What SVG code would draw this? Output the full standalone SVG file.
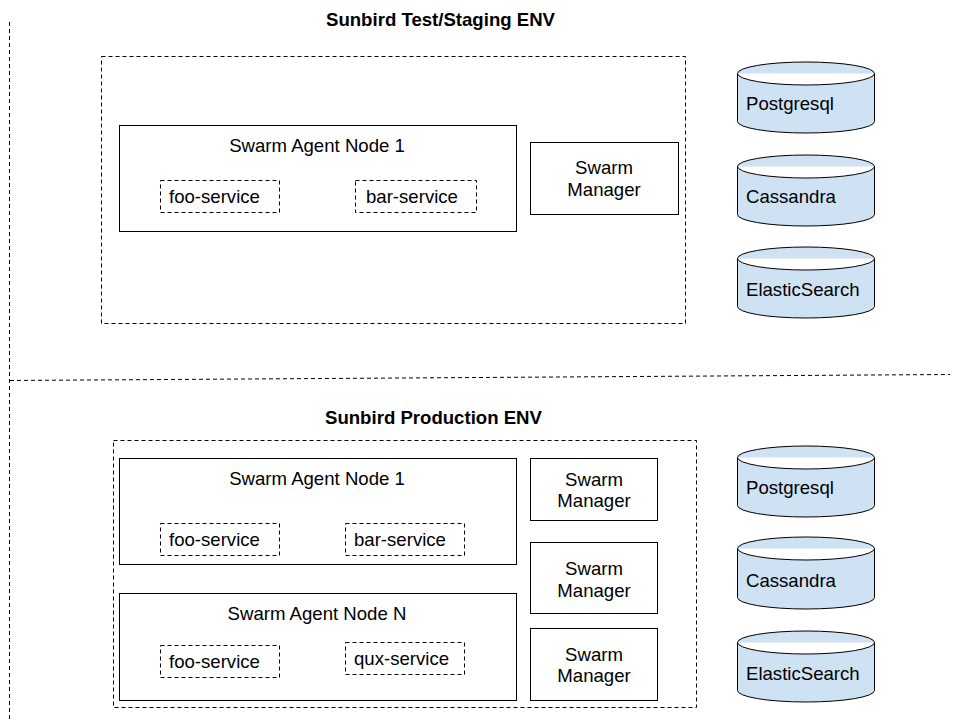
<svg xmlns="http://www.w3.org/2000/svg" width="960" height="720" viewBox="0 0 960 720">
<style>
text{font-family:"Liberation Sans",Arial,sans-serif;font-size:18.6px;fill:#000}
.title{font-weight:bold}
.mid{text-anchor:middle}
.box{fill:#fff;stroke:#000;stroke-width:1}
.dash{fill:none;stroke:#000;stroke-width:1;stroke-dasharray:4 3}
.cyl{fill:#cfe2f3;stroke:#000;stroke-width:1}
</style>
<rect width="960" height="720" fill="#fff"/>
<g id="separators">
<line class="dash" x1="9.5" y1="22" x2="9.5" y2="720"/>
<line class="dash" x1="10" y1="380.5" x2="950" y2="374.5"/>
</g>
<g id="staging">
<text class="title" x="326" y="26">Sunbird Test/Staging ENV</text>
<rect class="dash" x="101.5" y="56.5" width="584" height="267"/>
<g id="st-agent1">
<rect class="box" x="119.5" y="125.5" width="397" height="106"/>
<text class="mid" x="317" y="152">Swarm Agent Node 1</text>
</g>
<g id="st-foo"><rect class="dash" x="160.5" y="180.5" width="119" height="32"/><text x="169" y="203">foo-service</text></g>
<g id="st-bar"><rect class="dash" x="355.5" y="180.5" width="121" height="32"/><text x="366" y="203">bar-service</text></g>
<g id="st-manager">
<rect class="box" x="530.5" y="142.5" width="148" height="72"/>
<text class="mid" x="604" y="174">Swarm</text>
<text class="mid" x="604" y="196">Manager</text>
</g>
<g id="st-postgres">
<path class="cyl" d="M737.5 73.5 A68.5 11.5 0 0 1 874.5 73.5 V121.5 A68.5 11.5 0 0 1 737.5 121.5 Z M737.5 73.5 A68.5 11.5 0 0 0 874.5 73.5"/>
<text x="746" y="110">Postgresql</text>
</g>
<g id="st-cassandra">
<path class="cyl" d="M737.5 166.5 A68.5 11.5 0 0 1 874.5 166.5 V214.5 A68.5 11.5 0 0 1 737.5 214.5 Z M737.5 166.5 A68.5 11.5 0 0 0 874.5 166.5"/>
<text x="746" y="203">Cassandra</text>
</g>
<g id="st-elastic">
<path class="cyl" d="M737.5 258.5 A68.5 11.5 0 0 1 874.5 258.5 V306.5 A68.5 11.5 0 0 1 737.5 306.5 Z M737.5 258.5 A68.5 11.5 0 0 0 874.5 258.5"/>
<text x="746" y="296">ElasticSearch</text>
</g>
</g>
<g id="production">
<text class="title" x="325" y="424">Sunbird Production ENV</text>
<rect class="dash" x="113.5" y="440.5" width="583" height="267"/>
<g id="pr-agent1">
<rect class="box" x="119.5" y="458.5" width="397" height="106"/>
<text class="mid" x="317" y="485">Swarm Agent Node 1</text>
</g>
<g id="pr-foo1"><rect class="dash" x="160.5" y="523.5" width="119" height="32"/><text x="169" y="546">foo-service</text></g>
<g id="pr-bar"><rect class="dash" x="345.5" y="523.5" width="119" height="32"/><text x="354" y="546">bar-service</text></g>
<g id="pr-agentN">
<rect class="box" x="119.5" y="593.5" width="397" height="107"/>
<text class="mid" x="317" y="620">Swarm Agent Node N</text>
</g>
<g id="pr-foo2"><rect class="dash" x="160.5" y="645.5" width="119" height="32"/><text x="169" y="668">foo-service</text></g>
<g id="pr-qux"><rect class="dash" x="345.5" y="642.5" width="119" height="32"/><text x="354" y="665">qux-service</text></g>
<g id="pr-manager1">
<rect class="box" x="530.5" y="458.5" width="127" height="62"/>
<text class="mid" x="594" y="486">Swarm</text>
<text class="mid" x="594" y="507">Manager</text>
</g>
<g id="pr-manager2">
<rect class="box" x="530.5" y="542.5" width="127" height="71"/>
<text class="mid" x="594" y="575">Swarm</text>
<text class="mid" x="594" y="597">Manager</text>
</g>
<g id="pr-manager3">
<rect class="box" x="530.5" y="628.5" width="127" height="72"/>
<text class="mid" x="594" y="661">Swarm</text>
<text class="mid" x="594" y="682">Manager</text>
</g>
<g id="pr-postgres">
<path class="cyl" d="M737.5 457.5 A68.5 11.5 0 0 1 874.5 457.5 V505.5 A68.5 11.5 0 0 1 737.5 505.5 Z M737.5 457.5 A68.5 11.5 0 0 0 874.5 457.5"/>
<text x="746" y="494">Postgresql</text>
</g>
<g id="pr-cassandra">
<path class="cyl" d="M737.5 548.5 A68.5 11.5 0 0 1 874.5 548.5 V597.5 A68.5 11.5 0 0 1 737.5 597.5 Z M737.5 548.5 A68.5 11.5 0 0 0 874.5 548.5"/>
<text x="746" y="587">Cassandra</text>
</g>
<g id="pr-elastic">
<path class="cyl" d="M737.5 642.5 A68.5 11.5 0 0 1 874.5 642.5 V690.5 A68.5 11.5 0 0 1 737.5 690.5 Z M737.5 642.5 A68.5 11.5 0 0 0 874.5 642.5"/>
<text x="746" y="680">ElasticSearch</text>
</g>
</g>
<g id="connectors"/>
</svg>
